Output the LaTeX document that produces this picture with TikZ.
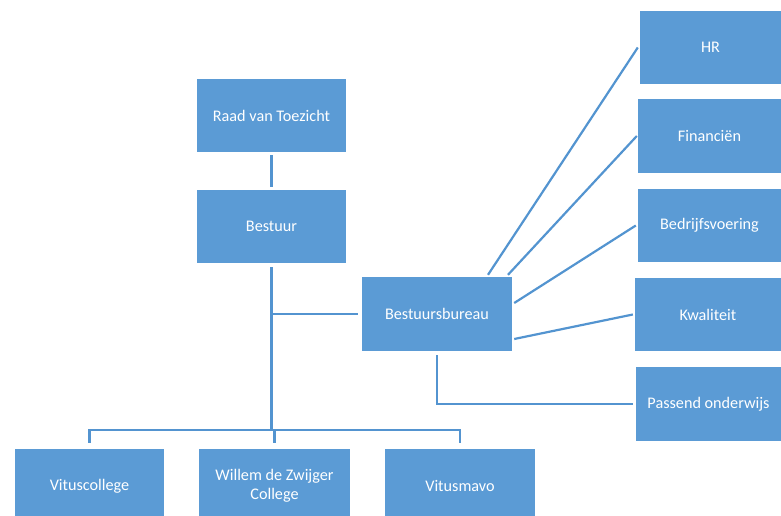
\documentclass[tikz,border=0pt]{standalone}
\usepackage{fontspec}
\setmainfont{Carlito}
\definecolor{boxblue}{HTML}{5B9BD5}
\definecolor{lineblue}{HTML}{5394D0}
\tikzset{
  orgbox/.style={fill=boxblue, draw=none, text=white, inner sep=0pt, align=center,
    font=\fontsize{16.2}{19.5}\selectfont},
  conn/.style={draw=lineblue, line width=2.2pt}
}
\begin{document}
\begin{tikzpicture}[x=1pt,y=-1pt]
\clip (0,0) rectangle (781,516);
% nodes
\node[orgbox, minimum width=149pt, minimum height=73pt] (rvt) at (271.5,115.5) {Raad van Toezicht};
\node[orgbox, minimum width=149pt, minimum height=73pt] (bestuur) at (271.5,226.5) {Bestuur};
\node[orgbox, minimum width=150pt, minimum height=74pt] (bb) at (437,314) {Bestuursbureau};
\node[orgbox, minimum width=141pt, minimum height=73pt] (hr) at (710.5,47.5) {HR};
\node[orgbox, minimum width=143pt, minimum height=74pt] (fin) at (709.5,136) {Financiën};
\node[orgbox, minimum width=143pt, minimum height=73pt] (bed) at (709.5,225.5) {Bedrijfsvoering};
\node[orgbox, minimum width=146pt, minimum height=73pt] (kwa) at (708,314.5) {Kwaliteit};
\node[orgbox, minimum width=145pt, minimum height=74pt] (po) at (708.5,404) {Passend onderwijs};
\node[orgbox, minimum width=149pt, minimum height=74pt] (vc) at (89.5,486) {Vituscollege};
\node[orgbox, minimum width=151pt, minimum height=74pt] (wz) at (274.5,486) {Willem de Zwijger\\College};
\node[orgbox, minimum width=150pt, minimum height=74pt] (vm) at (460,486) {Vitusmavo};
\coordinate (bar) at (272,430);
% connectors
\draw[conn] ([yshift=-3pt]rvt.south) -- ([yshift=3pt]bestuur.north);
\draw[conn] ([yshift=-4pt]bestuur.south) -- (bestuur.south |- bar);
\draw[conn] (bestuur.south |- bb.west) -- ([xshift=-4pt]bb.west);
\draw[conn] ([yshift=6pt]vc.north) -- (vc.north |- bar) -- (vm.north |- bar) -- ([yshift=6pt]vm.north);
\draw[conn] (wz.north |- bar) -- ([yshift=6pt]wz.north);
\draw[conn] ([xshift=51pt,yshift=2pt]bb.north) -- ([xshift=-2pt]hr.west);
\draw[conn] ([xshift=71pt,yshift=2pt]bb.north) -- ([xshift=-1pt]fin.west);
\draw[conn] ([xshift=2pt,yshift=11pt]bb.east) -- ([xshift=-2pt]bed.west);
\draw[conn] ([xshift=2pt,yshift=-25pt]bb.east) -- ([xshift=-2pt]kwa.west);
\draw[conn] ([yshift=-4pt]bb.south) |- ([xshift=-3pt]po.west);
\end{tikzpicture}
\end{document}
